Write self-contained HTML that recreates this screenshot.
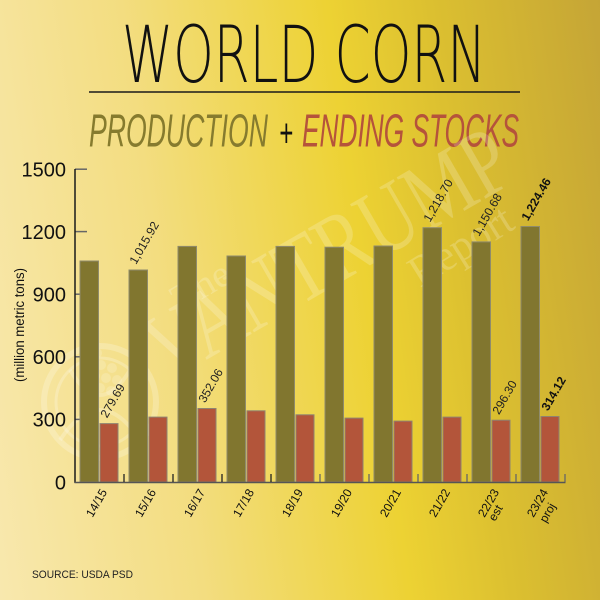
<!DOCTYPE html>
<html>
<head>
<meta charset="utf-8">
<style>
html,body{margin:0;padding:0;}
body{width:600px;height:600px;overflow:hidden;}
#bg{position:absolute;left:0;top:0;width:600px;height:600px;
background:linear-gradient(82deg,#f8e8ae 0%,#f3dd80 30%,#edd233 60%,#dcc030 75%,#c5a536 100%);}
svg{position:absolute;left:0;top:0;}
</style>
</head>
<body>
<div id="bg"></div>
<svg width="600" height="600" viewBox="0 0 600 600" xmlns="http://www.w3.org/2000/svg">
  <!-- Title -->
  <text x="122" y="82" font-family="DejaVu Sans, Liberation Sans, sans-serif" font-weight="200" font-size="78" fill="#111" textLength="364" lengthAdjust="spacingAndGlyphs">WORLD CORN</text>
  <line x1="89" y1="92" x2="520" y2="92" stroke="#1a1a1a" stroke-width="1.6"/>
  <text x="89" y="146.5" font-family="Liberation Sans, sans-serif" font-style="italic" font-size="46" fill="#867b2e" textLength="179" lengthAdjust="spacingAndGlyphs">PRODUCTION</text>
  <text x="279" y="146.5" font-family="Liberation Sans, sans-serif" font-style="italic" font-size="40" fill="#111" textLength="14" lengthAdjust="spacingAndGlyphs">+</text>
  <text x="302" y="146.5" font-family="Liberation Sans, sans-serif" font-style="italic" font-size="46" fill="#b5533b" textLength="217" lengthAdjust="spacingAndGlyphs">ENDING STOCKS</text>

  <!-- Watermark -->
  <g fill="#ffffff" fill-opacity="0.2" stroke="none">
    <text x="168" y="382" transform="rotate(-30 168 382)" font-family="Liberation Serif, serif" font-size="96" textLength="405" lengthAdjust="spacingAndGlyphs">VANTRUMP</text>
    <text x="180" y="312" transform="rotate(-30 180 312)" font-family="Liberation Serif, serif" font-size="38" textLength="62" lengthAdjust="spacingAndGlyphs">The</text>
    <text x="420" y="288" transform="rotate(-32 420 288)" font-family="Liberation Serif, serif" font-size="44" textLength="114" lengthAdjust="spacingAndGlyphs">Report</text>
  </g>
  <g fill="none" stroke="#ffffff" stroke-opacity="0.22">
    <circle cx="100" cy="402" r="56" stroke-width="6"/>
    <circle cx="100" cy="402" r="44" stroke-width="3"/>
    <path d="M60 440 Q100 380 140 440" stroke-width="4"/>
    <path d="M70 370 Q100 420 130 370" stroke-width="4"/>
  </g>
  <g fill="#ffffff" fill-opacity="0.17">
    <circle cx="90" cy="365" r="5"/><circle cx="101" cy="365" r="5"/><circle cx="112" cy="368" r="5"/>
    <circle cx="95" cy="376" r="5"/><circle cx="106" cy="378" r="5"/><circle cx="117" cy="380" r="5"/>
    <circle cx="100" cy="388" r="5"/><circle cx="111" cy="391" r="5"/><circle cx="86" cy="354" r="5"/><circle cx="97" cy="353" r="5"/>
  </g>

  <!-- Y axis labels -->
  <g font-family="Liberation Sans, sans-serif" font-size="20" fill="#111" text-anchor="end">
    <text x="66" y="176.5">1500</text>
    <text x="66" y="239">1200</text>
    <text x="66" y="301.5">900</text>
    <text x="66" y="364">600</text>
    <text x="66" y="426.5">300</text>
    <text x="66" y="489.5">0</text>
  </g>
  <text x="24" y="325" transform="rotate(-90 24 325)" font-family="Liberation Sans, sans-serif" font-size="13.5" fill="#111" text-anchor="middle" textLength="114" lengthAdjust="spacingAndGlyphs">(million metric tons)</text>

  <!-- Y ticks -->
  <g stroke="#666" stroke-width="1.5">
    <line x1="75" y1="169.2" x2="87" y2="169.2"/>
    <line x1="75" y1="231.6" x2="87" y2="231.6"/>
    <line x1="75" y1="294.2" x2="87" y2="294.2"/>
    <line x1="75" y1="356.8" x2="87" y2="356.8"/>
    <line x1="75" y1="419.4" x2="87" y2="419.4"/>
  </g>

  <!-- Bars -->
  <g fill="#81762f" stroke="#8f8b6c" stroke-width="1">
    <rect x="80" y="261.0" width="18.5" height="221.0"/>
    <rect x="129" y="270.0" width="18.5" height="212.0"/>
    <rect x="178" y="246.4" width="18.5" height="235.6"/>
    <rect x="227" y="256.0" width="18.5" height="226.0"/>
    <rect x="276" y="246.4" width="18.5" height="235.6"/>
    <rect x="325" y="247.2" width="18.5" height="234.8"/>
    <rect x="374" y="246.0" width="18.5" height="236.0"/>
    <rect x="423" y="227.7" width="18.5" height="254.3"/>
    <rect x="472" y="241.9" width="18.5" height="240.1"/>
    <rect x="521" y="226.5" width="18.5" height="255.5"/>
  </g>
  <g fill="#b3553a" stroke="#8f8370" stroke-width="1">
    <rect x="100" y="423.6" width="18" height="58.4"/>
    <rect x="149" y="417.1" width="18" height="64.9"/>
    <rect x="198" y="408.5" width="18" height="73.5"/>
    <rect x="247" y="410.8" width="18" height="71.2"/>
    <rect x="296" y="414.8" width="18" height="67.2"/>
    <rect x="345" y="418.1" width="18" height="63.9"/>
    <rect x="394" y="421.1" width="18" height="60.9"/>
    <rect x="443" y="417.1" width="18" height="64.9"/>
    <rect x="492" y="420.2" width="18" height="61.8"/>
    <rect x="541" y="416.5" width="18" height="65.5"/>
  </g>

  <!-- Axes -->
  <line x1="75" y1="169" x2="75" y2="483" stroke="#1a1a1a" stroke-width="1.5"/>
  <line x1="74.5" y1="482.5" x2="565.5" y2="482.5" stroke="#555" stroke-width="1.5"/>
  <g stroke="#222" stroke-width="1.3">
    <line x1="124" y1="474" x2="124" y2="482"/>
    <line x1="173" y1="474" x2="173" y2="482"/>
    <line x1="222" y1="474" x2="222" y2="482"/>
    <line x1="271" y1="474" x2="271" y2="482"/>
  </g>
  <g stroke="#666" stroke-width="1.3">
    <line x1="320" y1="474" x2="320" y2="482"/>
    <line x1="369" y1="474" x2="369" y2="482"/>
    <line x1="418" y1="474" x2="418" y2="482"/>
    <line x1="467" y1="474" x2="467" y2="482"/>
    <line x1="516" y1="474" x2="516" y2="482"/>
    <line x1="565" y1="474" x2="565" y2="482"/>
  </g>

  <!-- Data labels -->
  <g font-family="Liberation Sans, sans-serif" font-size="12" fill="#222">
    <text x="136" y="265" transform="rotate(-60 136 265)">1,015.92</text>
    <text x="430" y="222.7" transform="rotate(-60 430 222.7)">1,218.70</text>
    <text x="479" y="236.9" transform="rotate(-60 479 236.9)">1,150.68</text>
    <text x="528" y="221.5" transform="rotate(-60 528 221.5)" font-weight="bold" fill="#111">1,224.46</text>
    <text x="107" y="418.6" transform="rotate(-60 107 418.6)">279.69</text>
    <text x="205" y="403.5" transform="rotate(-60 205 403.5)">352.06</text>
    <text x="499" y="415.2" transform="rotate(-60 499 415.2)">296.30</text>
    <text x="548" y="411.5" transform="rotate(-60 548 411.5)" font-weight="bold" fill="#111">314.12</text>
  </g>

  <!-- X labels -->
  <g font-family="Liberation Sans, sans-serif" font-size="12" fill="#111" text-anchor="end">
    <text x="107.5" y="492" transform="rotate(-60 107.5 492)">14/15</text>
    <text x="156.5" y="492" transform="rotate(-60 156.5 492)">15/16</text>
    <text x="205.5" y="492" transform="rotate(-60 205.5 492)">16/17</text>
    <text x="254.5" y="492" transform="rotate(-60 254.5 492)">17/18</text>
    <text x="303.5" y="492" transform="rotate(-60 303.5 492)">18/19</text>
    <text x="352.5" y="492" transform="rotate(-60 352.5 492)">19/20</text>
    <text x="401.5" y="492" transform="rotate(-60 401.5 492)">20/21</text>
    <text x="450.5" y="492" transform="rotate(-60 450.5 492)">21/22</text>
    <text x="499.5" y="492" transform="rotate(-60 499.5 492)">22/23</text>
    <text x="503" y="508" transform="rotate(-60 503 508)">est</text>
    <text x="548.5" y="492" transform="rotate(-60 548.5 492)">23/24</text>
    <text x="556" y="506" transform="rotate(-60 556 506)">proj</text>
  </g>

  <!-- Source -->
  <text x="32" y="578" font-family="Liberation Sans, sans-serif" font-size="11" fill="#222" textLength="101" lengthAdjust="spacingAndGlyphs">SOURCE: USDA PSD</text>
</svg>
</body>
</html>
